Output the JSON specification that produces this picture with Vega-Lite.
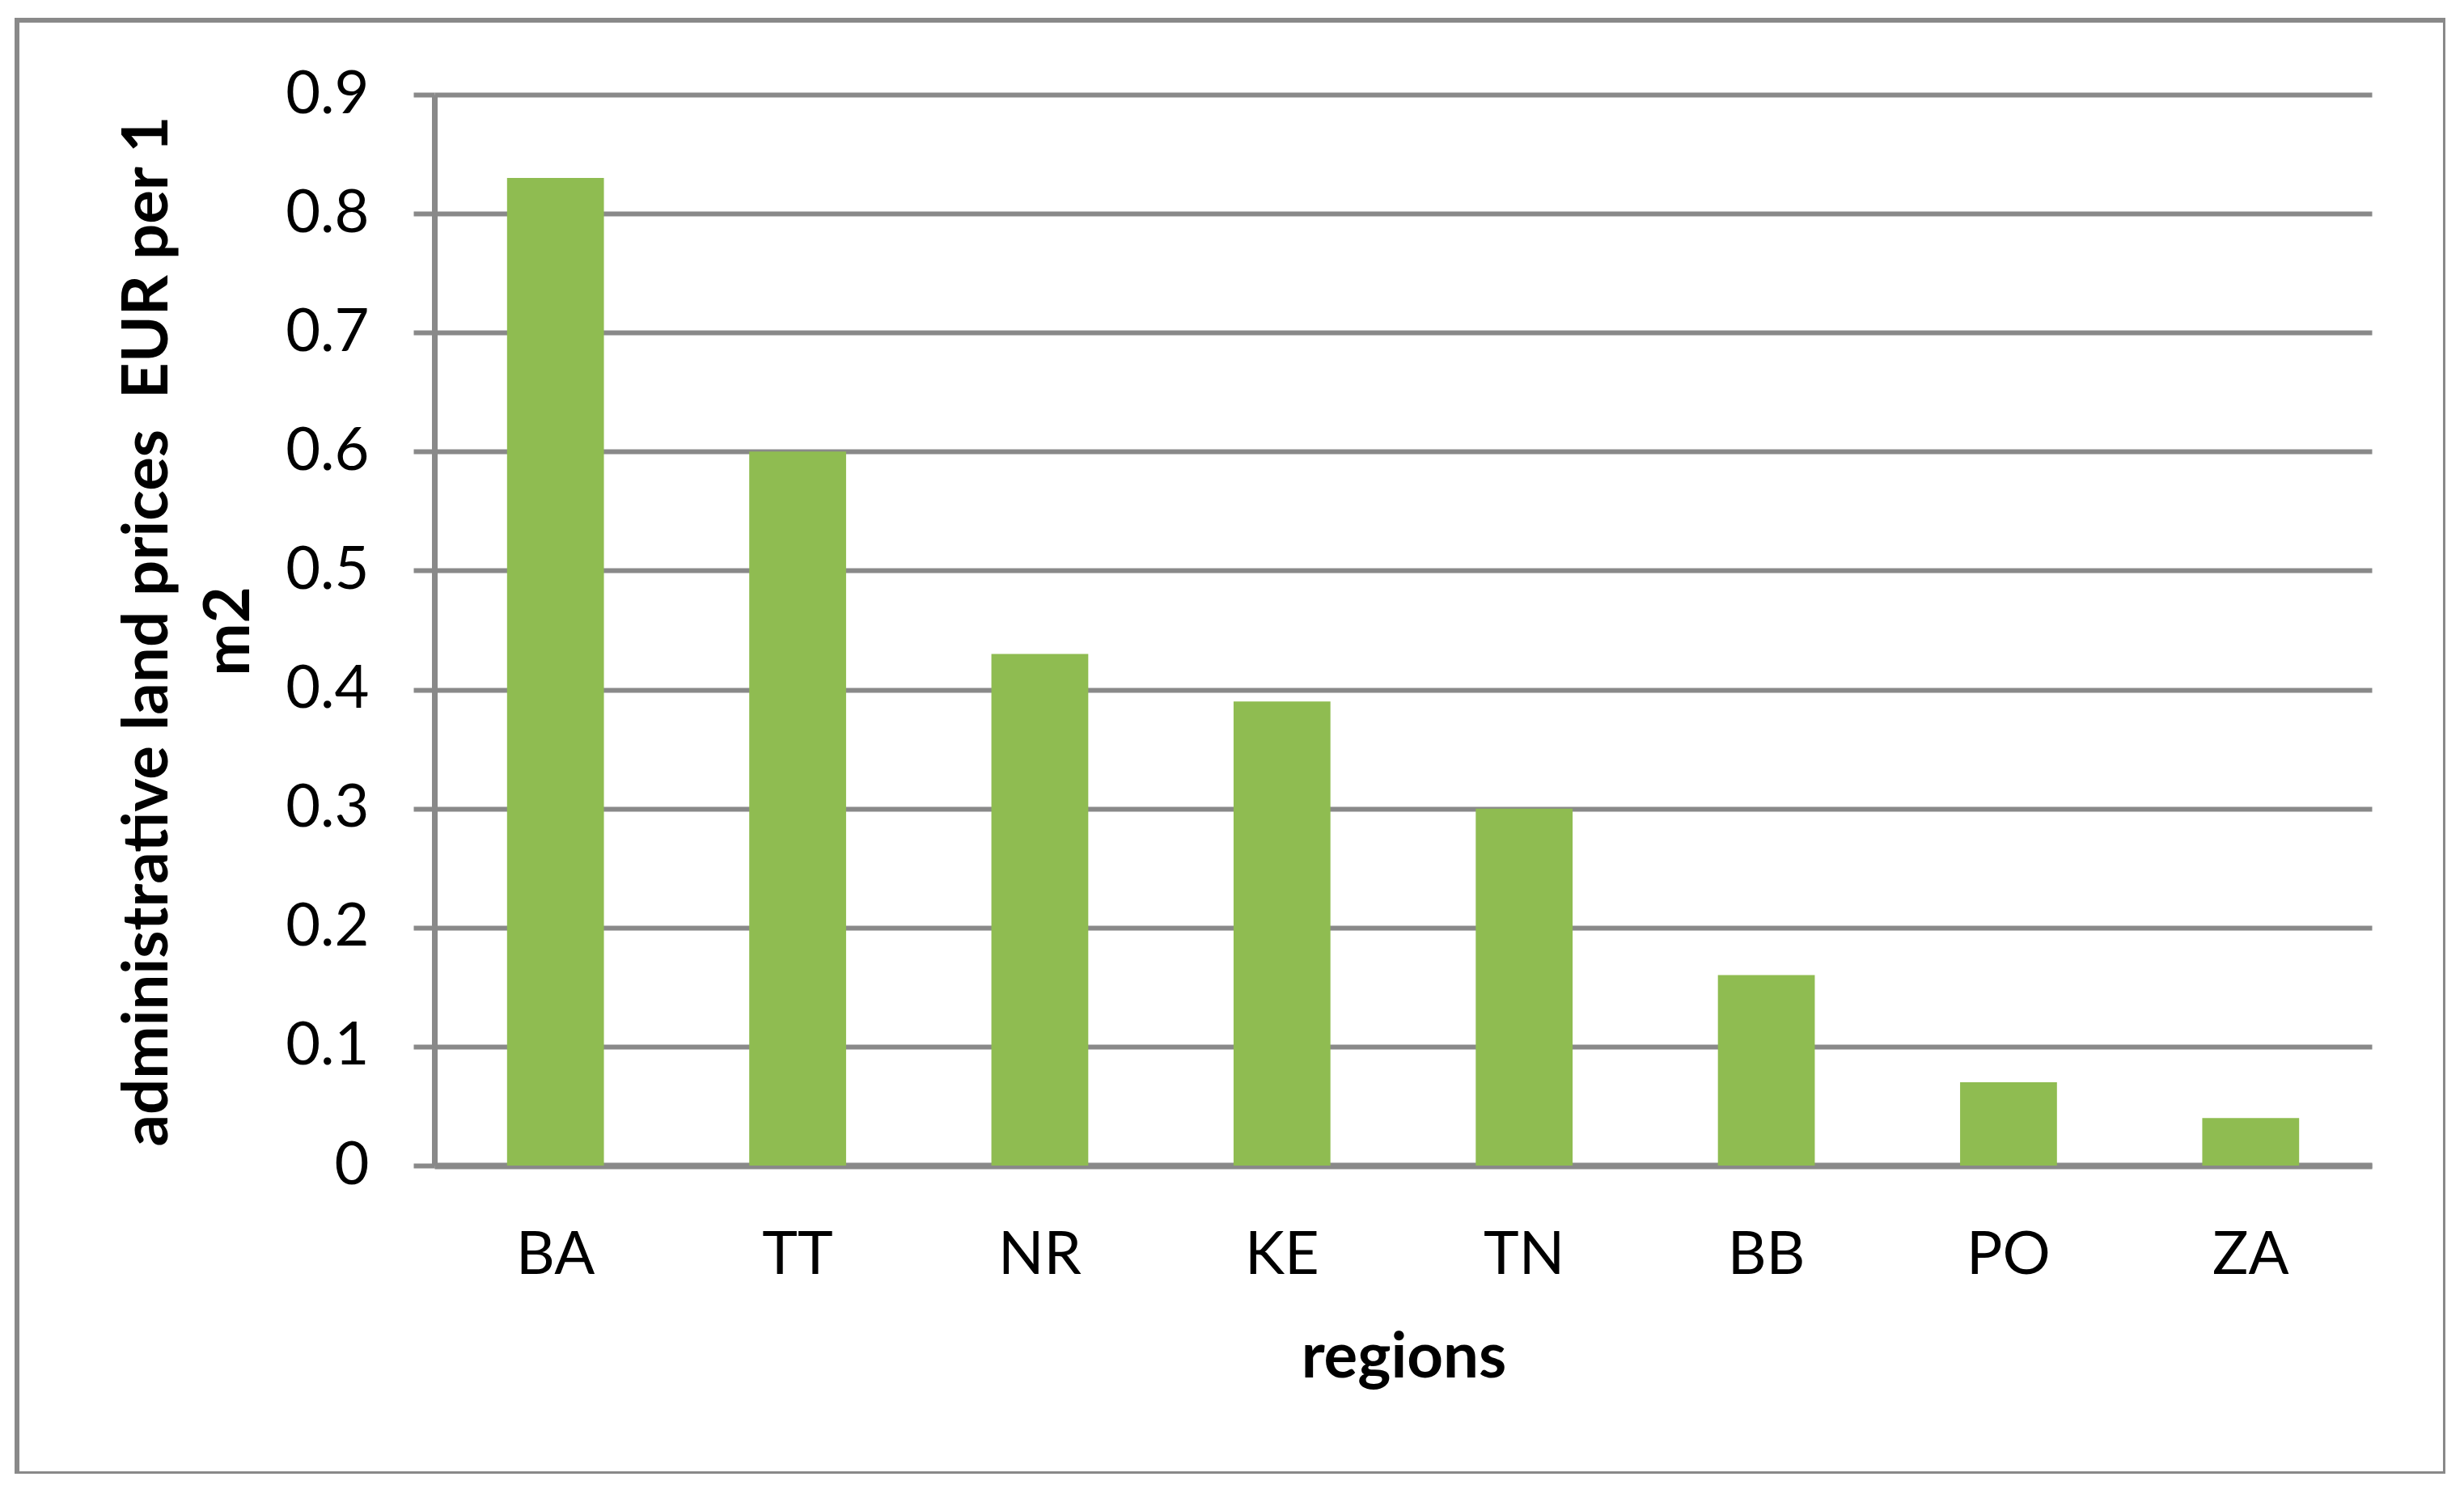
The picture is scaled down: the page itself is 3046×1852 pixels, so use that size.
{
  "$schema": "https://vega.github.io/schema/vega-lite/v6.json",
  "width": 3002,
  "height": 1797,
  "autosize": {"type": "none"},
  "padding": {"left": 21, "top": 25, "right": 0, "bottom": 0},
  "background": "white",
  "config": {
    "view": {"stroke": "#898989", "strokeWidth": 6},
    "font": "Lato"
  },
  "data": {
    "values": [
      {"region": "BA", "price": 0.83},
      {"region": "TT", "price": 0.60},
      {"region": "NR", "price": 0.43},
      {"region": "KE", "price": 0.39},
      {"region": "TN", "price": 0.30},
      {"region": "BB", "price": 0.16},
      {"region": "PO", "price": 0.07},
      {"region": "ZA", "price": 0.04}
    ]
  },
  "mark": {"type": "bar", "color": "#8FBC51"},
  "encoding": {
    "x": {
      "field": "region",
      "type": "nominal",
      "sort": null,
      "scale": {"range": [516, 2911], "paddingInner": 0.6, "paddingOuter": 0.3},
      "axis": {
        "orient": "bottom",
        "offset": -381,
        "title": "regions",
        "labelAngle": 0,
        "ticks": false,
        "tickSize": 0,
        "grid": false,
        "domainColor": "#898989",
        "domainWidth": 8,
        "labelFont": "Lato",
        "labelFontSize": 74,
        "labelColor": "black",
        "labelPadding": 75,
        "titleFont": "Lato",
        "titleFontSize": 78,
        "titleFontWeight": "bold",
        "titleColor": "black",
        "titleAlign": "center",
        "titleBaseline": "alphabetic",
        "titleX": 1714,
        "titleY": 261
      }
    },
    "y": {
      "field": "price",
      "type": "quantitative",
      "scale": {"domain": [0, 0.9], "range": [1416, 92], "nice": false},
      "axis": {
        "orient": "left",
        "offset": -516,
        "values": [0, 0.1, 0.2, 0.3, 0.4, 0.5, 0.6, 0.7, 0.8, 0.9],
        "format": ".1~f",
        "title": ["administrative land prices\u00a0 EUR per 1", "m2"],
        "domainColor": "#898989",
        "domainWidth": 7,
        "tickColor": "#898989",
        "tickWidth": 6,
        "tickSize": 26,
        "grid": true,
        "gridColor": "#898989",
        "gridWidth": 6,
        "gridOpacity": 1,
        "labelFont": "Lato",
        "labelFontSize": 74,
        "labelColor": "black",
        "labelPadding": 55,
        "titleFont": "Lato",
        "titleFontSize": 78,
        "titleFontWeight": "bold",
        "titleColor": "black",
        "titleAngle": -90,
        "titleAlign": "center",
        "titleBaseline": "alphabetic",
        "titleLineHeight": 101,
        "titleX": -331,
        "titleY": 755
      }
    }
  }
}
